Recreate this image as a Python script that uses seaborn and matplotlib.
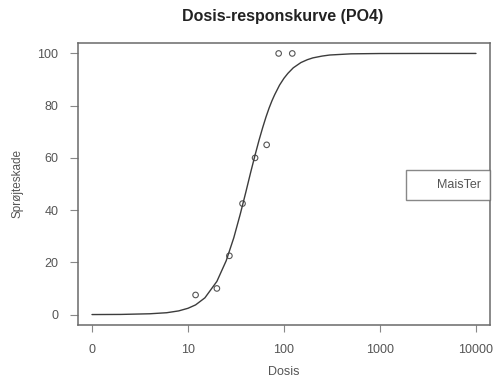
import matplotlib
matplotlib.use("Agg")
import matplotlib.pyplot as plt
from matplotlib.lines import Line2D
import seaborn as sns
import pandas as pd

# Observed spray damage (%) at each dose
dose_obs = [12, 20, 27, 37, 50, 66, 88, 122]
damage_obs = [7.5, 10, 22.5, 42.5, 60, 65, 100, 100]

# Fitted dose-response curve (dose, damage %)
curve_dose = [1, 2, 4, 6, 8, 10, 12, 15, 20, 25, 30, 35, 40, 45, 50, 55, 60,
              65, 70, 75, 80, 90, 100, 110, 125, 150, 175, 200, 250, 300,
              500, 1000, 3000, 10000]
curve_damage = [0.0, 0.05, 0.3, 0.7, 1.4, 2.4, 3.7, 6.4, 12.7, 20.6, 29.4,
                38.4, 46.8, 54.5, 61.1, 66.8, 71.6, 75.7, 79.1, 81.9, 84.2,
                87.9, 90.5, 92.4, 94.5, 96.5, 97.6, 98.3, 99.0, 99.4, 99.85,
                99.97, 100.0, 100.0]

x_ticks = [1, 10, 100, 1000, 10000]
x_tick_labels = ["0", "10", "100", "1000", "10000"]
y_ticks = [0, 20, 40, 60, 80, 100]

title = "Dosis-responskurve (PO4)"
x_label = "Dosis"
y_label = "Sprøjteskade"
legend_label = "MaisTer"

sns.set_theme(style="white")
plt.rcParams["font.family"] = ["Liberation Sans", "DejaVu Sans"]

obs = pd.DataFrame({"dose": dose_obs, "damage": damage_obs})
fit = pd.DataFrame({"dose": curve_dose, "damage": curve_damage})

fig = plt.figure(figsize=(4.97, 3.85), dpi=100)
ax = fig.add_axes([78 / 497, 1 - 325 / 385, 412 / 497, 282 / 385])

sns.lineplot(data=fit, x="dose", y="damage", ax=ax, color="#3c3c3c",
             linewidth=1.0, legend=False)
sns.scatterplot(data=obs, x="dose", y="damage", ax=ax, marker="o", s=16,
                facecolor="none", edgecolor="#555555", linewidth=0.8,
                legend=False)

ax.set_xscale("log")
ax.set_xlim(0.715, 14000)
ax.set_ylim(-4, 104)
ax.set_xticks(x_ticks)
ax.set_xticklabels(x_tick_labels)
ax.minorticks_off()
ax.set_yticks(y_ticks)

text_color = "#555555"
ax.tick_params(axis="both", which="major", direction="out", color="#888888",
               labelcolor=text_color, labelsize=9, width=0.8)
ax.tick_params(axis="y", length=6, pad=8, left=True)
ax.tick_params(axis="x", length=5, pad=9, bottom=True)

for side in ax.spines.values():
    side.set_color("#6a6a6a")
    side.set_linewidth(1.1)

ax.set_xlabel(x_label, fontsize=9, color=text_color, labelpad=7)
ax.set_ylabel(y_label, fontsize=8.5, color=text_color, labelpad=10)
fig.text(283 / 497, 1 - 16 / 385, title, ha="center", va="center",
         fontsize=11.5, fontweight="bold", color="#222222")

handle = Line2D([], [], linestyle="none")
leg = ax.legend([handle], [legend_label], loc="center right",
                bbox_to_anchor=(1.0, 0.496), borderaxespad=0, frameon=True,
                fancybox=False, fontsize=9, handlelength=1.2,
                handletextpad=0.6, borderpad=0.7, labelcolor=text_color)
leg.get_frame().set_edgecolor("#6a6a6a")
leg.get_frame().set_linewidth(1.0)

fig.savefig("out.png", dpi=100)
